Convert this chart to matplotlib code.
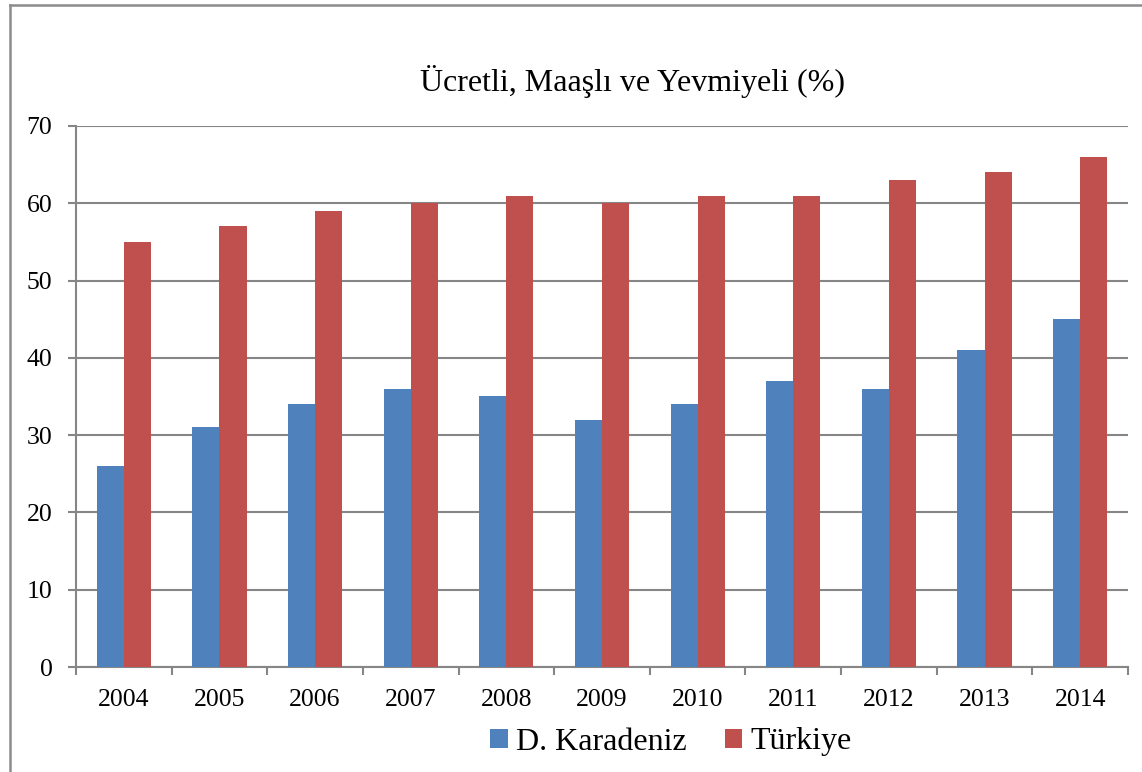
import matplotlib
matplotlib.use("Agg")
import matplotlib.pyplot as plt
import numpy as np
from matplotlib.patches import Patch
from matplotlib.lines import Line2D

years = ["2004", "2005", "2006", "2007", "2008", "2009", "2010", "2011", "2012", "2013", "2014"]
karadeniz = [26, 31, 34, 36, 35, 32, 34, 37, 36, 41, 45]
turkiye = [55, 57, 59, 60, 61, 60, 61, 61, 63, 64, 66]
series_names = ["D. Karadeniz", "Türkiye"]
title = "Ücretli, Maaşlı ve Yevmiyeli (%)"

blue = "#4F81BD"
red = "#C0504D"
grid_c = "#868686"

plt.rcParams["font.family"] = ["Liberation Serif", "DejaVu Serif"]

W, H = 1142, 772
fig = plt.figure(figsize=(W / 100, H / 100), dpi=100)
ax = fig.add_axes([76 / W, 1 - 667 / H, (1128 - 76) / W, (667 - 126) / H])

x = np.arange(len(years))
w = 0.283
ax.bar(x - w / 2, karadeniz, w, color=blue, edgecolor="none", zorder=3)
ax.bar(x + w / 2, turkiye, w, color=red, edgecolor="none", zorder=3)

ax.set_xlim(-0.5, len(years) - 0.5)
ax.set_ylim(0, 70)
ax.set_yticks(range(0, 71, 10))
ax.yaxis.grid(True, color=grid_c, linewidth=1.5, zorder=0)
ax.set_axisbelow(True)

ax.set_xticks(x)
ax.set_xticklabels(years)
ax.set_xticks(np.arange(-0.5, len(years), 1.0), minor=True)
ax.tick_params(axis="x", which="major", length=0, pad=16, labelsize=18.5)
ax.tick_params(axis="x", which="minor", length=6, width=1.5, color=grid_c, direction="out")
ax.tick_params(axis="y", length=6, width=1.5, color=grid_c, direction="out", pad=11, labelsize=18.5)

for s in ["top", "right"]:
    ax.spines[s].set_visible(False)
for s in ["left", "bottom"]:
    ax.spines[s].set_color(grid_c)
    ax.spines[s].set_linewidth(1.5)

fig.text(632 / W, 1 - 82 / H, title, ha="center", va="center", fontsize=23)

handles = [Patch(facecolor=blue, edgecolor="none"), Patch(facecolor=red, edgecolor="none")]
fig.legend(handles, series_names, loc="center", bbox_to_anchor=(671 / W, 1 - 742 / H),
           ncol=2, frameon=False, fontsize=23, handlelength=0.55, handleheight=0.55,
           handletextpad=0.25, columnspacing=1.2)

# outer chart border (top & left visible)
fig.add_artist(Line2D([9.5 / W, 9.5 / W], [0, 1 - 5 / H], color="#8C8C8C", linewidth=1.8, transform=fig.transFigure))
fig.add_artist(Line2D([9.5 / W, 1], [1 - 5 / H, 1 - 5 / H], color="#8C8C8C", linewidth=1.8, transform=fig.transFigure))

fig.savefig("out.png", dpi=100)
